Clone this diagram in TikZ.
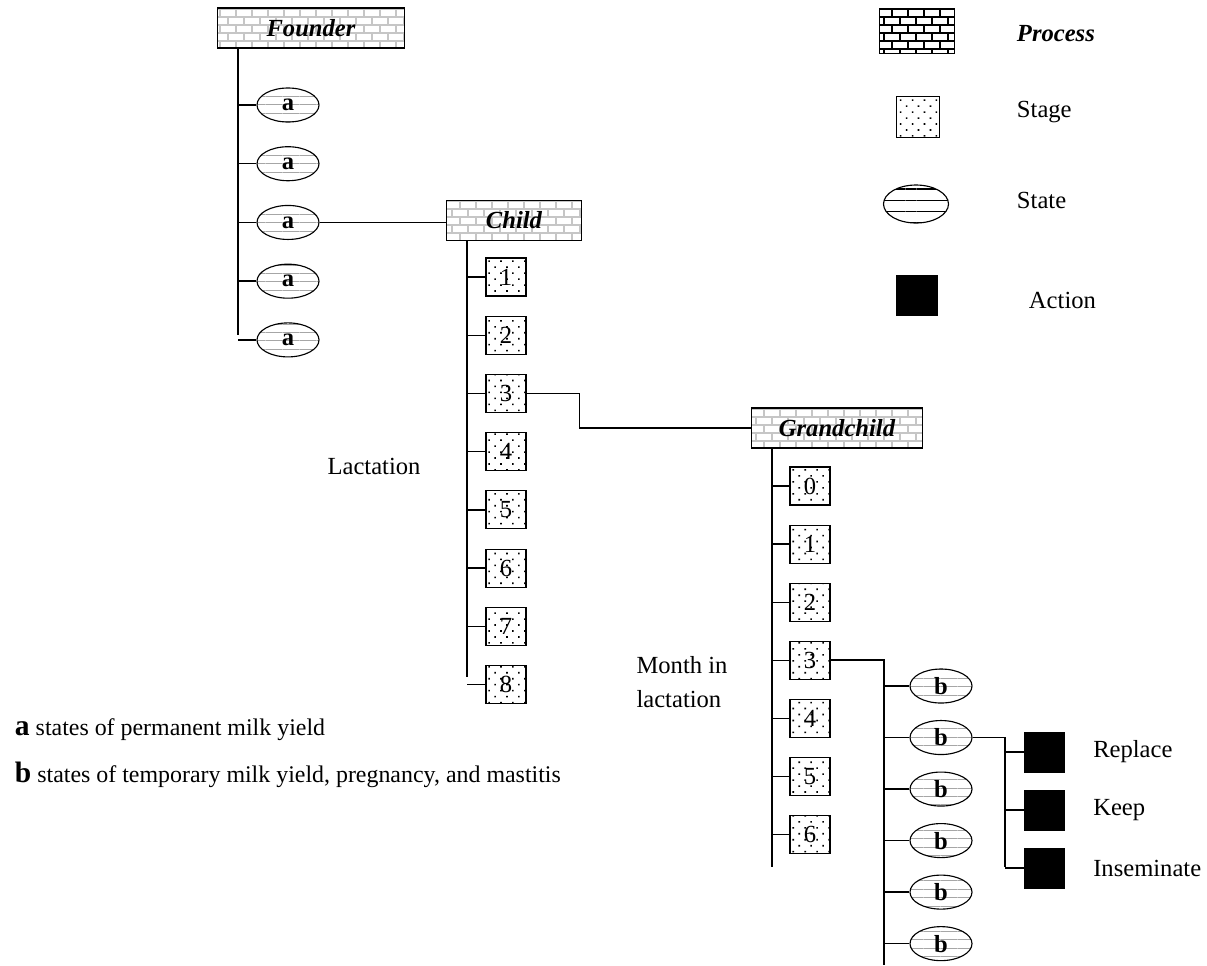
\documentclass[tikz,border=0pt]{standalone}
\usepackage{fontspec}
\setmainfont{Liberation Serif}
\usetikzlibrary{positioning,patterns,patterns.meta,shapes.geometric}

\begin{document}
\begin{tikzpicture}[
    font=\fontsize{17.5}{21}\selectfont,
    proc/.style={
        draw,
        thick,
        pattern=bricks,
        pattern color=gray!45,
        minimum height=1cm,
        inner sep=0pt,
        font=\fontsize{17.5}{21}\selectfont\bfseries\itshape
    },
    stage/.style={
        draw,
        thick,
        pattern={Dots[distance=6pt,radius=0.8pt,angle=45]},
        minimum width=1cm,
        minimum height=0.95cm,
        inner sep=0pt
    },
    state/.style={
        draw,
        ellipse,
        thick,
        pattern={Lines[distance=6pt,line width=0.5pt]},
        pattern color=gray!70,
        minimum width=1.55cm,
        minimum height=0.85cm,
        inner sep=0pt,
        font=\fontsize{17.5}{21}\selectfont\bfseries
    },
    act/.style={draw, fill=black, minimum width=1cm, minimum height=1cm, inner sep=0pt},
    link/.style={line width=1pt},
    trunk/.style={line width=1.3pt},
    note/.style={anchor=west, font=\fontsize{17}{20}\selectfont}
]
\useasboundingbox (0,0) rectangle (30.175,-24.125);

% ============================================================
% LEGEND
% ============================================================
\node[proc, minimum width=1.875cm, minimum height=1.125cm, pattern color=black] (legproc) at (22.925,-0.775) {};
\node[anchor=west, font=\fontsize{17.5}{21}\selectfont\bfseries\itshape] (legproctxt) at (25.3,-0.85) {Process};
\node[stage, minimum width=1.075cm, minimum height=1.025cm] (legstage) at (22.95,-2.925) {};
\node[anchor=west] (legstagetxt) at (25.3,-2.8) {Stage};
\node[state, minimum width=1.625cm, minimum height=0.95cm, pattern={Lines[distance=8pt,line width=0.8pt]}, pattern color=black] (legstate) at (22.9,-5.1) {};
\node[anchor=west] (legstatetxt) at (25.3,-5.0) {State};
\node[act, minimum width=1.025cm] (legact) at (22.925,-7.375) {};
\node[anchor=west] (legacttxt) at (25.6,-7.5) {Action};

% ============================================================
% FOUNDER
% ============================================================
\node[proc, minimum width=4.675cm] (founder) at (7.775,-0.7) {Founder};
\node[state] (a1) at (7.2,-2.625) {a};
\node[state, below=0.59cm of a1] (a2) {a};
\node[state, below=0.59cm of a2] (a3) {a};
\node[state, below=0.59cm of a3] (a4) {a};
\node[state, below=0.59cm of a4] (a5) {a};
\coordinate (ftrunk) at (5.95,-8.385);

\draw[trunk] (founder.south -| ftrunk) -- (ftrunk);
\draw[link] (a1.west -| ftrunk) -- (a1.west);
\draw[link] (a2.west -| ftrunk) -- (a2.west);
\draw[link] (a3.west -| ftrunk) -- (a3.west);
\draw[link] (a4.west -| ftrunk) -- (a4.west);
\draw[link] (a5.west -| ftrunk) -- (a5.west);

% ============================================================
% CHILD
% ============================================================
\node[proc, minimum width=3.375cm] (child) at (12.85,-5.505) {Child};
\draw[link] (a3.east) -- (a3.east -| child.west);

\node[stage] (c1) at (12.65,-6.925) {1};
\node[stage, below=0.4775cm of c1] (c2) {2};
\node[stage, below=0.4775cm of c2] (c3) {3};
\node[stage, below=0.4775cm of c3] (c4) {4};
\node[stage, below=0.4775cm of c4] (c5) {5};
\node[stage, below=0.4775cm of c5] (c6) {6};
\node[stage, below=0.4775cm of c6] (c7) {7};
\node[stage, below=0.4775cm of c7] (c8) {8};
\coordinate (ctrunk) at (11.675,-16.9175);

\draw[trunk] (child.south -| ctrunk) -- (ctrunk);
\draw[link] (c1.west -| ctrunk) -- (c1.west);
\draw[link] (c2.west -| ctrunk) -- (c2.west);
\draw[link] (c3.west -| ctrunk) -- (c3.west);
\draw[link] (c4.west -| ctrunk) -- (c4.west);
\draw[link] (c5.west -| ctrunk) -- (c5.west);
\draw[link] (c6.west -| ctrunk) -- (c6.west);
\draw[link] (c7.west -| ctrunk) -- (c7.west);
\draw[link] (c8.west -| ctrunk) -- (c8.west);

\node (lact) at (9.35,-11.65) {Lactation};

% ============================================================
% GRANDCHILD
% ============================================================
\node[proc, minimum width=4.275cm] (grandchild) at (20.925,-10.7) {Grandchild};
\draw[link] (c3.east) -- ++(1.325,0) |- (grandchild.west);

\node[stage] (g0) at (20.25,-12.15) {0};
\node[stage, below=0.475cm of g0] (g1) {1};
\node[stage, below=0.475cm of g1] (g2) {2};
\node[stage, below=0.475cm of g2] (g3) {3};
\node[stage, below=0.475cm of g3] (g4) {4};
\node[stage, below=0.475cm of g4] (g5) {5};
\node[stage, below=0.475cm of g5] (g6) {6};
\coordinate (gtrunk) at (19.3,-21.675);

\draw[trunk] (grandchild.south -| gtrunk) -- (gtrunk);
\draw[link] (g0.west -| gtrunk) -- (g0.west);
\draw[link] (g1.west -| gtrunk) -- (g1.west);
\draw[link] (g2.west -| gtrunk) -- (g2.west);
\draw[link] (g3.west -| gtrunk) -- (g3.west);
\draw[link] (g4.west -| gtrunk) -- (g4.west);
\draw[link] (g5.west -| gtrunk) -- (g5.west);
\draw[link] (g6.west -| gtrunk) -- (g6.west);

\node[align=left, font=\fontsize{17.5}{24}\selectfont] (month) at (17.05,-17.05) {Month in\\lactation};

% states and actions of month 3
\node[state] (b1) at (23.525,-17.15) {b};
\node[state, below=0.41cm of b1] (b2) {b};
\node[state, below=0.41cm of b2] (b3) {b};
\node[state, below=0.41cm of b3] (b4) {b};
\node[state, below=0.41cm of b4] (b5) {b};
\node[state, below=0.41cm of b5] (b6) {b};
\coordinate (btrunk) at (22.1,-24.125);

\draw[trunk] (g3.east) -| (btrunk);
\draw[link] (b1.west -| btrunk) -- (b1.west);
\draw[link] (b2.west -| btrunk) -- (b2.west);
\draw[link] (b3.west -| btrunk) -- (b3.west);
\draw[link] (b4.west -| btrunk) -- (b4.west);
\draw[link] (b5.west -| btrunk) -- (b5.west);
\draw[link] (b6.west -| btrunk) -- (b6.west);

\node[act] (act1) at (26.1,-18.8) {};
\node[act, below=0.4375cm of act1] (act2) {};
\node[act, below=0.4375cm of act2] (act3) {};
\coordinate (abend) at (25.125,-21.675);

\draw[link] (b2.east) -| (abend);
\draw[link] (act1.west -| abend) -- (act1.west);
\draw[link] (act2.west -| abend) -- (act2.west);
\draw[link] (act3.west -| abend) -- (act3.west);

\node[right=0.6cm of act1] (replace) {Replace};
\node[right=0.6cm of act2] (keep) {Keep};
\node[right=0.6cm of act3] (insem) {Inseminate};

% ============================================================
% NOTES
% ============================================================
\node[note] (nota) at (0.25,-18.25) {{\fontsize{21}{21}\selectfont\textbf{a}} states of permanent milk yield};
\node[note] (notb) at (0.25,-19.375) {{\fontsize{21}{21}\selectfont\textbf{b}} states of temporary milk yield, pregnancy, and mastitis};

\end{tikzpicture}
\end{document}
